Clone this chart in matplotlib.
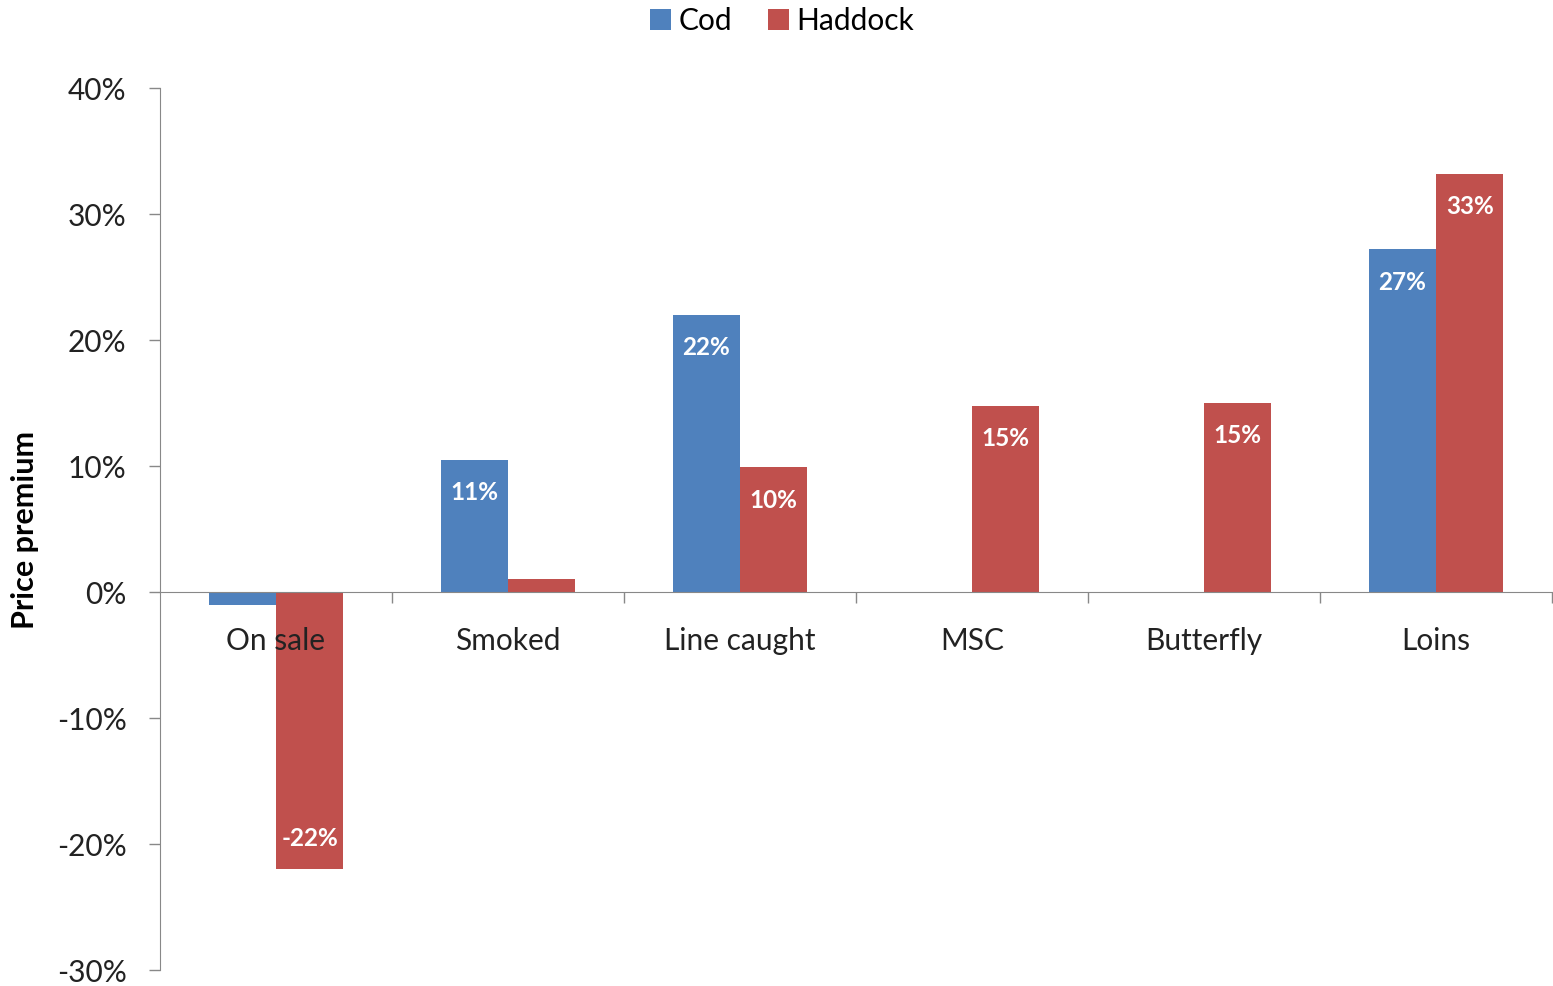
import matplotlib.pyplot as plt
import numpy as np
from matplotlib.ticker import FuncFormatter

categories = ["On sale", "Smoked", "Line caught", "MSC", "Butterfly", "Loins"]
cod = [-1, 10.5, 22, np.nan, np.nan, 27.2]
haddock = [-22, 1, 9.9, 14.8, 15, 33.2]
cod_labels = ["", "11%", "22%", "", "", "27%"]
haddock_labels = ["-22%", "", "10%", "15%", "15%", "33%"]

plt.rcParams['font.family'] = ['Lato', 'DejaVu Sans']

fig = plt.figure(figsize=(15.53, 9.86), dpi=100)
ax = fig.add_axes([160/1553, 16/986, 1392/1553, 882/986])

x = np.arange(len(categories))
w = 0.29
b1 = ax.bar(x - w/2, cod, w, color='#4F81BD', label='Cod', zorder=1)
b2 = ax.bar(x + w/2, haddock, w, color='#C0504D', label='Haddock', zorder=1)

# white value labels just inside the bar ends
for bars, labels, vals in [(b1, cod_labels, cod), (b2, haddock_labels, haddock)]:
    for bar, lab, v in zip(bars, labels, vals):
        if not lab:
            continue
        off = -2.6 if v > 0 else 2.4
        ax.text(bar.get_x() + bar.get_width()/2, v + off, lab, ha='center', va='center',
                color='white', fontsize=17.5, fontweight='bold', zorder=5)

ax.set_xlim(-0.5, 5.5)
ax.set_ylim(-30, 40)
ax.set_yticks(range(-30, 41, 10))
ax.yaxis.set_major_formatter(FuncFormatter(lambda v, p: f"{v:.0f}%"))
ax.tick_params(axis='y', labelsize=21.5, length=8, width=1, color='#888888', pad=16, labelcolor='#222222')

ax.spines['top'].set_visible(False)
ax.spines['right'].set_visible(False)
ax.spines['left'].set_color('#888888')
ax.spines['bottom'].set_color('#888888')
ax.spines['bottom'].set_position(('data', 0))

ax.set_xticks(np.arange(0.5, 5.6, 1))
ax.set_xticklabels([])
ax.tick_params(axis='x', which='major', length=8, width=1, color='#888888', direction='out')
ax.set_xticks(x, minor=True)
ax.set_xticklabels(categories, minor=True)
ax.tick_params(axis='x', which='minor', length=0, labelsize=21.5, pad=25, labelcolor='#222222')

fig.text(25/1553, 1 - 530/986, "Price premium", rotation=90, ha='center', va='center',
         fontsize=22, fontweight='bold')

fig.legend(handles=[b1, b2], loc='center', bbox_to_anchor=(782/1553, 1 - 21/986), ncol=2,
           frameon=False, fontsize=21.5, handlelength=0.7, handleheight=0.7,
           handletextpad=0.25, columnspacing=1.2)

fig.savefig("out.png", dpi=100)
